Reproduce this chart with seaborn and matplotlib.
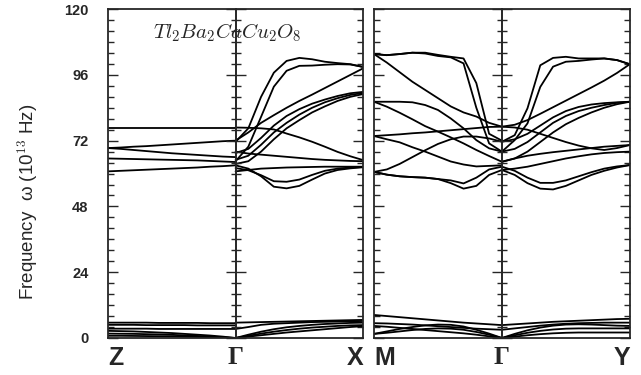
import numpy as np
import pandas as pd
import matplotlib
matplotlib.use("Agg")
import matplotlib.pyplot as plt
import seaborn as sns
from matplotlib.ticker import MultipleLocator

# fractional position along each path segment
k_frac = [0.0, 0.1, 0.2, 0.3, 0.4, 0.5, 0.6, 0.7, 0.8, 0.9, 1.0]

# --- left panel: Z -> Gamma (read from Z to Gamma) ---
zg_bands = [
    [76.8, 76.8, 76.8, 76.8, 76.8, 76.8, 76.8, 76.8, 76.8, 76.8, 76.8],
    [69.3, 69.5, 69.8, 70.0, 70.3, 70.6, 70.9, 71.2, 71.5, 71.8, 72.0],
    [69.3, 69.0, 68.6, 68.2, 67.8, 67.4, 67.1, 66.8, 66.5, 66.2, 66.0],
    [65.5, 65.4, 65.3, 65.2, 65.1, 65.0, 64.9, 64.8, 64.6, 64.4, 64.2],
    [60.8, 61.0, 61.2, 61.4, 61.6, 61.8, 62.0, 62.2, 62.5, 62.7, 63.0],
    [5.6, 5.6, 5.6, 5.6, 5.5, 5.5, 5.5, 5.5, 5.4, 5.4, 5.4],
    [4.8, 4.8, 4.8, 4.7, 4.7, 4.7, 4.7, 4.6, 4.6, 4.6, 4.6],
    [3.4, 3.4, 3.4, 3.4, 3.3, 3.3, 3.3, 3.3, 3.3, 3.3, 3.3],
    [2.6, 2.5, 2.4, 2.2, 2.0, 1.8, 1.5, 1.2, 0.9, 0.5, 0.0],
    [1.6, 1.55, 1.5, 1.4, 1.3, 1.15, 0.95, 0.75, 0.5, 0.25, 0.0],
    [0.8, 0.8, 0.75, 0.7, 0.65, 0.6, 0.5, 0.4, 0.3, 0.15, 0.0],
]

# --- left panel: Gamma -> X ---
gx_bands = [
    [71.6, 76.5, 88.0, 96.8, 101.1, 102.2, 101.7, 100.8, 100.3, 99.9, 98.9],
    [64.5, 69.8, 80.7, 91.7, 97.5, 99.3, 99.4, 99.7, 99.9, 99.8, 98.9],
    [72.0, 75.0, 78.5, 81.3, 84.0, 86.5, 88.8, 91.2, 93.6, 96.0, 98.4],
    [67.5, 69.0, 73.0, 77.5, 81.0, 83.5, 85.5, 87.0, 88.3, 89.3, 89.8],
    [65.0, 66.5, 70.5, 75.0, 78.5, 81.5, 84.0, 86.0, 87.5, 88.7, 89.4],
    [63.5, 64.5, 68.0, 72.5, 76.5, 79.5, 82.3, 84.5, 86.5, 88.0, 89.0],
    [76.8, 76.7, 76.5, 76.1, 74.6, 73.2, 71.6, 69.8, 67.9, 66.3, 64.9],
    [68.0, 67.3, 66.9, 66.5, 66.1, 65.7, 65.3, 65.0, 64.8, 64.6, 64.5],
    [60.8, 61.3, 61.8, 62.0, 62.2, 62.3, 62.4, 62.5, 62.5, 62.5, 62.5],
    [63.0, 61.8, 59.0, 55.2, 54.6, 55.5, 57.8, 60.0, 61.3, 61.9, 62.3],
    [62.0, 61.2, 59.4, 57.2, 57.0, 57.8, 59.5, 61.0, 61.8, 62.2, 62.4],
    [5.6, 5.7, 5.8, 5.9, 6.0, 6.1, 6.2, 6.3, 6.4, 6.5, 6.6],
    [3.3, 4.0, 4.8, 5.2, 5.4, 5.6, 5.8, 5.9, 6.0, 6.1, 6.2],
    [0.0, 1.2, 2.3, 3.2, 3.9, 4.4, 4.8, 5.1, 5.3, 5.5, 5.6],
    [0.0, 0.8, 1.6, 2.3, 2.9, 3.4, 3.8, 4.1, 4.4, 4.6, 4.7],
    [0.0, 0.5, 1.0, 1.5, 2.0, 2.4, 2.8, 3.2, 3.6, 4.0, 4.3],
]

# --- right panel: M -> Gamma (read from M to Gamma) ---
mg_bands = [
    [103.6, 103.2, 103.6, 104.1, 104.1, 103.3, 102.6, 102.0, 93.0, 74.5, 72.0],
    [103.6, 103.2, 103.6, 104.1, 103.8, 102.9, 102.4, 100.2, 84.0, 71.0, 68.0],
    [103.6, 100.5, 97.0, 93.5, 90.5, 87.5, 84.5, 82.3, 80.8, 78.5, 77.1],
    [86.2, 86.2, 86.2, 86.0, 85.0, 83.2, 80.1, 76.5, 72.2, 69.2, 68.0],
    [86.2, 84.4, 82.2, 79.8, 77.3, 75.3, 73.2, 71.0, 68.6, 66.4, 64.3],
    [73.7, 74.0, 74.3, 74.7, 75.0, 75.4, 75.8, 76.2, 76.6, 77.0, 77.1],
    [73.7, 72.5, 71.4, 69.6, 68.0, 66.2, 64.4, 63.3, 62.6, 62.8, 63.0],
    [60.6, 61.5, 63.5, 66.0, 68.5, 70.8, 72.5, 73.5, 73.5, 72.8, 71.6],
    [60.6, 59.6, 59.0, 58.7, 58.5, 58.0, 56.5, 54.5, 55.5, 59.5, 61.3],
    [60.6, 59.6, 59.0, 58.7, 58.5, 58.0, 57.5, 56.4, 58.5, 61.5, 62.5],
    [8.4, 8.0, 7.6, 7.2, 6.8, 6.4, 6.0, 5.6, 5.3, 5.0, 4.7],
    [5.4, 5.3, 5.1, 4.9, 4.6, 4.3, 4.0, 3.7, 3.4, 3.2, 3.0],
    [1.5, 2.4, 3.3, 4.0, 4.6, 4.9, 4.8, 4.2, 3.0, 1.6, 0.0],
    [1.5, 1.9, 2.4, 2.9, 3.3, 3.5, 3.4, 3.0, 2.2, 1.2, 0.0],
    [4.4, 4.1, 3.7, 3.3, 2.9, 2.5, 2.1, 1.7, 1.2, 0.6, 0.0],
]

# --- right panel: Gamma -> Y ---
gy_bands = [
    [71.6, 74.0, 83.8, 99.5, 102.2, 102.6, 102.0, 102.0, 102.0, 101.4, 99.9],
    [68.0, 72.2, 78.3, 91.6, 99.0, 100.8, 101.1, 101.6, 102.0, 101.4, 99.9],
    [77.1, 77.8, 79.5, 81.8, 84.2, 86.6, 89.0, 91.4, 93.9, 96.7, 99.9],
    [71.6, 72.5, 74.5, 77.5, 80.5, 82.8, 84.3, 85.2, 85.7, 86.0, 86.2],
    [68.0, 69.0, 71.5, 75.0, 78.5, 81.0, 82.8, 84.0, 85.0, 85.8, 86.2],
    [64.3, 65.5, 68.0, 71.5, 75.0, 78.0, 80.3, 82.3, 84.0, 85.3, 86.2],
    [77.1, 76.8, 76.0, 74.5, 73.0, 71.5, 70.2, 69.2, 68.6, 69.3, 70.4],
    [64.3, 65.5, 66.5, 67.2, 67.8, 68.3, 68.8, 69.3, 69.8, 70.1, 70.4],
    [61.3, 61.8, 62.5, 63.5, 64.5, 65.5, 66.3, 67.0, 67.5, 67.8, 68.0],
    [61.3, 59.5, 56.5, 54.5, 54.2, 55.5, 57.5, 59.5, 61.0, 62.2, 63.1],
    [62.5, 61.0, 58.5, 56.6, 56.6, 57.5, 59.0, 60.5, 61.8, 62.6, 63.1],
    [4.7, 5.0, 5.3, 5.6, 5.9, 6.1, 6.3, 6.5, 6.7, 6.9, 7.0],
    [3.0, 3.5, 4.0, 4.5, 4.9, 5.2, 5.4, 5.5, 5.6, 5.6, 5.6],
    [0.0, 1.5, 2.8, 3.8, 4.5, 4.9, 5.0, 4.9, 4.7, 4.5, 4.4],
    [0.0, 1.0, 1.9, 2.6, 3.1, 3.4, 3.5, 3.5, 3.5, 3.5, 3.5],
    [0.0, 0.5, 1.0, 1.4, 1.7, 1.9, 2.0, 2.0, 2.0, 2.0, 2.0],
]

left_labels = ["Z", "\u0393", "X"]
right_labels = ["M", "\u0393", "Y"]
y_ticks = [0, 24, 48, 72, 96, 120]


def to_frame(segments):
    rows = []
    for seg_name, offset, bands in segments:
        for i, band in enumerate(bands):
            for kk, f in zip(k_frac, band):
                rows.append({"k": offset + kk, "freq": f, "band": f"{seg_name}{i}"})
    return pd.DataFrame(rows)


df_left = to_frame([("zg", 0.0, zg_bands), ("gx", 1.0, gx_bands)])
df_right = to_frame([("mg", 0.0, mg_bands), ("gy", 1.0, gy_bands)])

sns.set_style("ticks")
plt.rcParams["font.family"] = ["Liberation Sans", "DejaVu Sans"]
plt.rcParams["mathtext.fontset"] = "cm"

fig = plt.figure(figsize=(6.41, 3.75), dpi=100)
bottom, height = 0.0987, 0.877
ax1 = fig.add_axes([0.1685, bottom, 0.398, height])
ax2 = fig.add_axes([0.5835, bottom, 0.399, height])

for ax, df, labels in [(ax1, df_left, left_labels), (ax2, df_right, right_labels)]:
    sns.lineplot(data=df, x="k", y="freq", units="band", estimator=None,
                 sort=False, color="black", lw=1.3, ax=ax)
    ax.set_xlim(0, 2)
    ax.set_ylim(0, 120)
    ax.set_xlabel("")
    ax.set_ylabel("")
    ax.yaxis.set_major_locator(MultipleLocator(24))
    ax.yaxis.set_minor_locator(MultipleLocator(4))
    ax.tick_params(axis="y", which="major", direction="in", left=True, right=True,
                   length=7, width=1.0)
    ax.tick_params(axis="y", which="minor", direction="in", left=True, right=True,
                   length=4.3, width=1.0)
    ax.set_xticks([0, 1, 2])
    ax.set_xticklabels(labels)
    ax.tick_params(axis="x", length=0, pad=6)
    for lab, ha in zip(ax.get_xticklabels(), ["left", "center", "right"]):
        lab.set_ha(ha)
        lab.set_fontsize(18)
        lab.set_fontweight("bold")
        if lab.get_text() == "\u0393":
            lab.set_fontfamily("Liberation Serif")
    for sp in ax.spines.values():
        sp.set_linewidth(1.3)

    # vertical Gamma line with ticks on both sides
    pos = ax.get_position()
    gax = fig.add_axes([pos.x0 + pos.width / 2, bottom, 1e-5, height])
    gax.set_facecolor("none")
    gax.set_ylim(0, 120)
    gax.set_xticks([])
    for name in ["right", "top", "bottom"]:
        gax.spines[name].set_visible(False)
    gax.spines["left"].set_linewidth(1.4)
    gax.yaxis.set_major_locator(MultipleLocator(24))
    gax.yaxis.set_minor_locator(MultipleLocator(4))
    gax.tick_params(axis="y", which="major", direction="inout", length=14, width=1.0,
                    labelleft=False)
    gax.tick_params(axis="y", which="minor", direction="inout", length=7, width=1.0,
                    labelleft=False)

ax1.set_yticks(y_ticks)
ax1.set_yticklabels([str(v) for v in y_ticks], fontsize=10.5, fontweight="bold")
ax1.tick_params(axis="y", which="major", pad=14)
ax2.set_yticklabels([])

ax1.set_ylabel("Frequency  \u03c9 (10$^{13}$ Hz)", fontsize=13.5)
ax1.yaxis.set_label_coords(-0.265, 0.413)
ax1.text(0.467, 0.927, r"$Tl_2Ba_2CaCu_2O_8$", transform=ax1.transAxes,
         ha="center", va="center", fontsize=15)

fig.savefig("out.png", dpi=100)
